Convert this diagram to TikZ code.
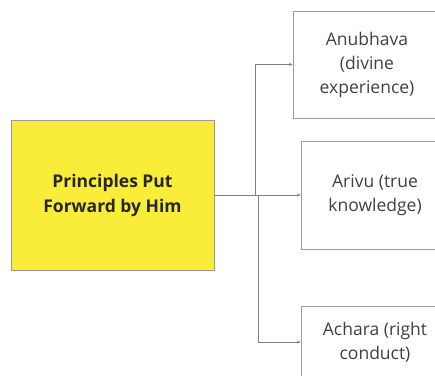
\documentclass[tikz,border=0pt]{standalone}
\usepackage{fontspec}
\setmainfont{Open Sans}
\usetikzlibrary{arrows.meta}
\usetikzlibrary{positioning}
\definecolor{boxyellow}{HTML}{FAED3A}
\definecolor{edgegray}{HTML}{9A9A9A}
\definecolor{linegray}{HTML}{808080}

\begin{document}
\begin{tikzpicture}[x=1bp, y=-1bp, every node/.style={align=center},
    main/.style={draw=edgegray, fill=boxyellow, line width=0.8bp, minimum width=203bp, minimum height=150bp,
        inner sep=0pt, font=\fontsize{17.5bp}{25bp}\selectfont\bfseries, text=black!85},
    item/.style={draw=edgegray, line width=0.8bp, minimum width=148bp, inner sep=0pt,
        font=\fontsize{17.5bp}{24bp}\selectfont, text=black!75},
    link/.style={draw=linegray, line width=0.7bp, -{Stealth[length=3.5bp, width=3bp]}}]
    \useasboundingbox (0,0) rectangle (435,375);
    \clip (0,0) rectangle (435,375);

    % source box
    \node[main] (main) at (112.5,195) {Principles Put\\Forward by Him};

    % three principles
    \node[item, minimum height=107bp] (anu) at (367,64.5) {Anubhava\\(divine\\experience)};
    \node[item, minimum height=108bp] (ari) at (375,195) {Arivu (true\\knowledge)};
    \node[item, minimum height=72bp] (ach) at (375,342) {Achara (right\\conduct)};

    % connectors
    \draw[link] (main.east) -- ++(41,0) |- (anu.west);
    \draw[link] (main.east) -- (ari.west);
    \draw[link] (main.east) -- ++(44,0) |- (ach.west);
\end{tikzpicture}
\end{document}
